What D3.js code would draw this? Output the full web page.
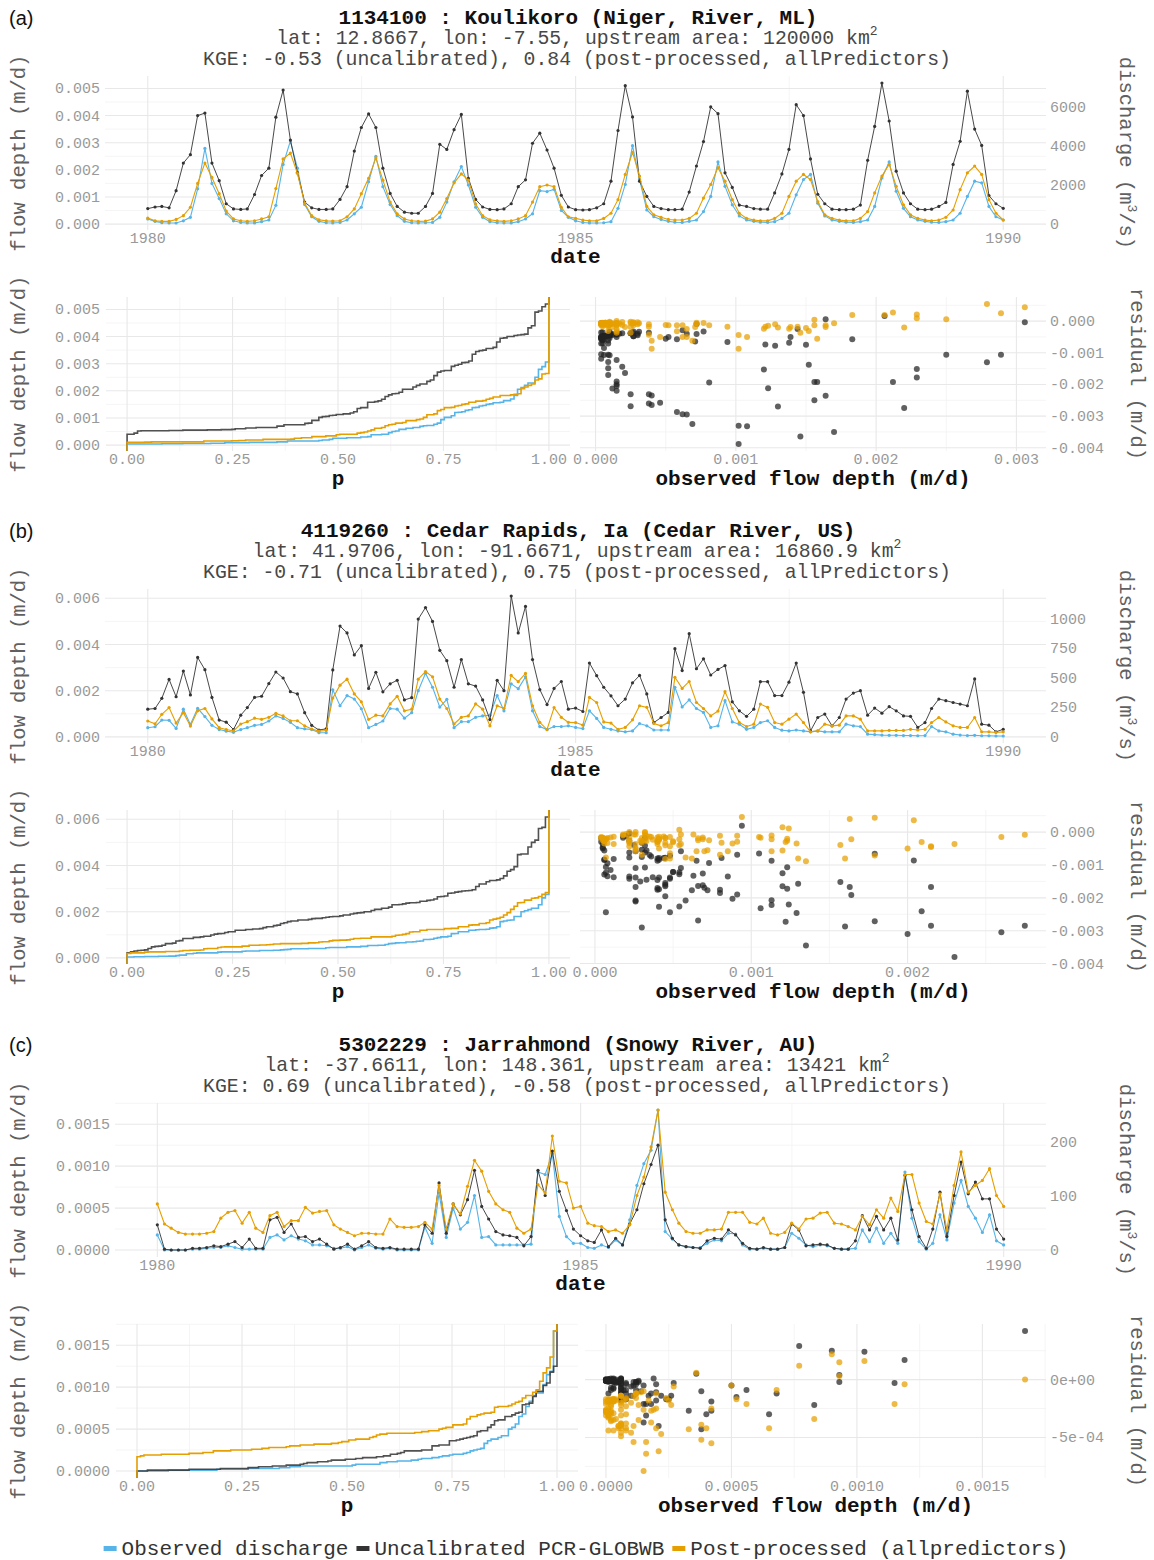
<!DOCTYPE html>
<html>
<head>
<meta charset="utf-8">
<script src="https://cdn.jsdelivr.net/npm/d3@7"></script>
<style>
body { margin: 0; background: #fff; }
svg text { font-family: 'Liberation Mono', 'DejaVu Sans Mono', monospace; }
</style>
</head>
<body>
<svg id="chart" width="1154" height="1560"></svg>
<script>
'use strict';

/*---------------------------------------------------------------
data : monthly flow depth, Jan 1980 - Jan 1990, in 1e-4 m/d
---------------------------------------------------------------*/
// (a) Koulikoro
var obsA = [1.9,1.0,0.5,0.4,0.4,1.2,2.5,13,27.9,15,9.4,3.8,
    1.2,0.6,0.4,0.4,0.9,1.5,6.9,22,30.6,20.6,7.2,2.7,
    1.0,0.5,0.4,0.6,1.5,3.8,6.2,15.6,25,13.8,7.2,3.1,
    1.0,0.5,0.4,0.5,0.6,2.5,8.1,15.6,21.2,14.4,6.2,2.5,
    0.9,0.5,0.4,0.4,0.9,1.9,3.8,12.3,12,12.8,5,2.5,
    1.2,0.6,0.4,0.4,0.5,0.9,5.8,14.6,28.9,16.4,5.2,2.7,
    1.7,1.0,0.7,0.6,1.0,1.5,4.6,10.2,22.9,13.9,7.1,3.0,
    1.5,1.0,0.7,0.6,0.9,2.1,4.0,10.8,16.4,18.3,7.7,3.0,
    1.5,1.0,0.7,0.6,0.9,1.5,6.5,17,22.9,12.1,5.8,2.7,
    1.5,1.0,0.7,0.6,0.9,1.5,4.0,10.2,15.8,15.2,6.5,2.7,
    1.5];
var uncA = [5.7,6.3,6.5,6.0,12.3,22.5,25.6,40,40.9,22.5,16,7.5,
    5.6,5.4,5.6,10.9,17.9,20.6,39.4,49.4,31,19,8.1,6,
    5.4,5.4,5.6,9.1,13.8,26.9,35.6,40.6,35.6,20.6,11.3,6.5,
    4.4,4.0,4.0,6.5,11.3,29.4,27.5,34.8,40.4,16.9,9.1,6.3,
    5.4,5.3,5.6,7.5,13.8,16.3,29.8,33.5,27.3,20.6,10.6,6.3,
    5.3,5.2,5.3,6.0,7.5,15.8,34.5,51,39.5,15.8,10.2,6.5,
    5.7,5.3,5.3,5.5,11.8,21.4,30.4,43.2,40.7,18.9,13.5,7,
    6.5,5.7,5.5,5.5,11.5,18.5,27.5,44,40,24,11,7.5,
    5.5,5.3,5.3,5.5,7.0,23.5,36,52,38,19.5,11.5,7.5,
    5.5,5.3,5.5,6.5,8.0,22,30.5,49,35,29,10.5,7.5,
    5.8];
var postA = [2.2,1.2,1.0,1.0,1.7,3.1,6.2,15,22.5,17.2,11.2,4.8,
    1.9,1.2,1.0,1.2,1.9,2.7,13.1,24,26.2,18.7,7.7,3.1,
    1.6,1.2,1.1,1.2,2.7,5.6,11.2,16.9,24.4,16.2,8.1,3.8,
    1.9,1.2,1.0,1.1,1.9,4.4,9.4,15.2,18.5,16.2,7.5,3.1,
    1.6,1.2,1.0,1.2,1.9,3.1,8.1,13.8,14.4,13.8,6.2,2.7,
    2.1,1.5,1.2,1.2,2.1,4.0,9.0,18.3,26.4,17.7,6.5,3.4,
    2.5,1.7,1.5,1.5,2.1,4.0,9.6,14.6,20.8,15.8,9.0,4.0,
    2.1,1.5,1.2,1.2,2.1,4.0,10.2,15.8,18.3,16.4,8.3,3.4,
    2.1,1.5,1.2,1.2,2.1,4.6,11.5,17.7,22,13.9,7.1,3.4,
    2.1,1.5,1.2,1.5,2.5,5.2,12.7,18.9,21.4,18.3,9.0,4.0,
    1.5];

// (b) Cedar Rapids
var obsB = [4.0,4.4,7.3,7.2,3.7,12,5.4,12.4,8.8,5.0,3.2,2.5,
    2.0,3.2,4.0,5.0,5.4,6.9,9.1,8.0,6.3,4.0,3.5,3.2,
    1.8,1.8,20.4,13.5,17.9,16.4,12.2,4.0,5.4,6.9,12.3,12,
    8.1,10.5,20,27.5,21.5,12.9,16.3,4,6.6,6.6,8.5,9.1,
    9.4,17.9,11.3,23,20.9,26,11.3,4.5,3.2,4.5,4.5,4.8,
    4.1,3.6,11.3,8.0,4.1,3.3,2.6,2.2,2.6,5.8,4.8,3.0,
    3.0,3.0,21.5,13,16,12.3,10.6,4.1,4.8,15.7,6.5,5.5,
    3.3,4.1,6.2,7.0,4.1,2.9,2.6,3.0,2.6,2.2,2.6,2.2,
    2.2,2.2,5.5,4.8,4.5,1.2,1.0,0.8,0.7,0.7,0.6,0.6,
    0.5,0.6,4.5,2.6,2.2,1.2,0.8,0.6,0.7,0.5,0.5,0.4,
    0.4];
var uncB = [12,12.3,16.7,24.9,17.4,28.5,18.2,34.4,29.1,17.1,7.3,6.4,
    3.2,9.4,12.7,17.1,17.6,23.1,28.1,25.5,19.6,18.6,10.5,5.0,
    3.0,3.5,29,48,45,35.5,39.5,21,28,19.5,23,24.5,
    16,17,51,56,50,37.5,33,21.5,33.5,23,22,16,
    7.5,24.5,20,61,45,56.5,33.5,20.5,14,21,24,12,
    12.5,11.0,32,26.5,21.5,17.8,13.5,16.4,23.4,26.6,18.6,6.2,
    8.4,10.6,38.2,28.7,44.7,29.5,33.8,26.8,29.2,30.9,15.2,11.3,
    8.9,12,23.9,23.9,17.9,17.9,23.7,32,19.3,2.6,8.4,9.9,
    4.8,8.4,16.4,19,20,9.4,12.5,10.3,13.1,11.3,9.1,8.9,
    4.1,6.2,12.3,16.4,15.7,14.9,14.2,13.5,25.1,5.5,5.1,2.2,
    3.3];
var postB = [6.9,5.7,9.8,12.7,6.0,10.5,4.7,11.3,12.3,7.8,4.0,3.2,
    2.6,5.6,6.6,8.1,7.6,8.5,10.2,9.1,7.0,7.0,4.8,3.4,
    2.5,2.8,16.8,22.4,25,18.6,15.2,7.6,9.4,9.1,14.3,17.6,
    11.3,12,25,28.3,26,16.4,12.3,5.6,8.5,9.1,14.3,12,
    4.8,13.5,12.3,26.6,23.9,27.5,13.5,6.3,3.2,12.7,8.5,6.3,
    6.2,5.1,17.1,14.9,6.5,6.0,3.3,4.1,7.4,13.5,12.8,5.8,
    4.8,6.2,25.8,21,24,14.9,12.3,9.1,11.2,19.6,12.3,6.2,
    4.5,5.5,14.2,12.8,6.2,5.5,7.7,9.9,6.2,2.2,2.6,5.5,
    4.8,5.1,9.1,9.1,7.7,2.6,2.6,2.6,2.8,2.8,2.8,3.3,
    3.0,3.3,6.2,8.4,6.5,4.8,4.1,4.1,8.4,2.2,2.2,1.9,
    2.2];

// (c) Jarrahmond
var obsC = [1.8,0.0,0.0,0.0,0.0,0.1,0.1,0.2,0.3,0.3,0.5,0.3,
    0.1,0.1,0.1,0.1,1.5,1.8,1.2,1.7,1.3,1.1,0.6,0.6,
    0.5,0.2,0.2,0.4,0.0,0.3,0.6,0.2,0.1,0.2,0.0,0.0,
    0.0,0.0,2.7,0.8,6.8,1.5,5.0,2.5,3.3,6.5,1.5,1.6,
    0.6,0.6,0.6,0.6,0.6,0.7,9.3,9.0,11.5,4.0,1.6,0.8,
    0.8,0.3,0.2,0.6,0.3,1.2,0.6,3.6,7.7,10.3,11.9,16.7,
    2.2,1.3,0.6,0.4,0.3,0.3,0.8,1.2,1.1,2.0,1.9,0.6,
    0.1,0.1,0.2,0.1,0.1,0.3,2.0,1.4,0.6,0.4,0.6,0.5,
    0.2,0.1,0.1,0.2,2.4,1.0,2.6,0.8,2.0,0.8,9.3,3.8,
    1.0,0.1,0.8,4.2,1.2,5.6,8.3,5.2,3.8,2.1,4.2,1.1,
    0.6];
var uncC = [3.0,0.1,0.0,0.0,0.0,0.2,0.2,0.3,0.5,0.4,0.7,1.0,
    0.3,1.3,0.2,0.2,3.6,3.9,2.1,3.1,1.5,1.6,1.0,1.3,
    0.7,0.1,0.3,0.7,0.1,0.5,1.0,0.3,0.2,0.3,0.1,0.1,
    0.1,0.1,3.0,2.0,8.0,2.0,5.5,4.2,6.0,9.5,5.2,3.7,
    2.2,1.8,1.7,1.5,0.5,1.6,9.5,6.5,11.8,7.0,4.7,2.5,
    1.7,1.1,0.9,2.4,0.4,1.4,0.6,3.1,4.8,7.9,10.2,12.5,
    3.6,1.4,0.6,0.4,0.3,0.2,1.1,1.4,1.3,2.4,1.8,0.8,
    0.2,0.1,0.3,0.1,0.1,0.3,3.1,2.4,0.5,0.6,0.7,0.6,
    0.2,0.1,0.1,1.1,4.1,2.4,4.0,2.4,3.8,1.2,8.9,4.8,
    1.6,0.2,2.5,6.9,1.6,6.5,10.5,6.7,8.1,6.1,6.1,2.5,
    1.3];
var postC = [5.5,3.1,2.6,2.1,1.9,1.9,1.9,2.0,2.2,3.8,4.5,4.7,
    3.2,4.5,2.6,2.1,4.1,4.5,2.8,3.5,3.5,5.1,4.4,4.6,
    4.7,3.0,2.5,2.1,1.7,2.0,2.0,1.9,1.9,3.7,2.8,2.7,
    2.7,2.8,3.3,2.5,7.7,2.5,5.5,4.3,7.6,10.7,9.4,7.0,
    5.5,4.8,4.5,2.6,2.0,2.5,7.8,6.8,13.6,8.2,8.0,5.0,
    5.2,3.2,2.9,2.8,2.2,2.4,2.0,3.0,6.5,8.7,12.3,16.7,
    6.9,4.8,3.2,2.2,2.0,2.0,2.4,2.4,2.5,4.5,4.5,4.5,
    3.3,3.1,3.8,2.0,1.8,2.1,3.2,2.5,3.7,3.8,4.4,4.5,
    3.2,3.1,2.8,2.4,4.0,3.0,4.8,3.8,6.2,4.6,9.0,9.0,
    5.6,3.4,3.1,6.7,2.4,7.7,11.7,6.9,7.7,8.3,9.7,6.5,
    5.2];

// station info
var panelLetters = ['(a)', '(b)', '(c)'];
var stationTitles = ['1134100 : Koulikoro (Niger, River, ML)',
    '4119260 : Cedar Rapids, Ia (Cedar River, US)',
    '5302229 : Jarrahmond (Snowy River, AU)'];
var stationLat = ['12.8667', '41.9706', '-37.6611'];
var stationLon = ['-7.55', '-91.6671', '148.361'];
var stationArea = [120000, 16860.9, 13421]; // km2
var kgeUncal = ['-0.53', '-0.71', '0.69'];
var kgePost = ['0.84', '0.75', '-0.58'];

// tick values
var yearTicks = [1980, 1985, 1990];
var pTicks = [0, 0.25, 0.5, 0.75, 1];
var depthTicksA = [0, 0.001, 0.002, 0.003, 0.004, 0.005];
var depthTicksB = [0, 0.002, 0.004, 0.006];
var depthTicksC = [0, 0.0005, 0.001, 0.0015];
var dischargeTicksA = [0, 2000, 4000, 6000];
var dischargeTicksB = [0, 250, 500, 750, 1000];
var dischargeTicksC = [0, 100, 200];
var obsTicksA = [0, 0.001, 0.002, 0.003];
var obsTicksB = [0, 0.001, 0.002];
var obsTicksC = [0, 0.0005, 0.001, 0.0015];
var resTicksA = [0, -0.001, -0.002, -0.003, -0.004];
var resTicksB = [0, -0.001, -0.002, -0.003, -0.004];
var resTicksC = [0, -0.0005];
var resLabelsC = ['0e+00', '-5e-04'];

var legendLabels = ['Observed discharge', 'Uncalibrated PCR-GLOBWB', 'Post-processed (allpredictors)'];

/*---------------------------------------------------------------
setup
---------------------------------------------------------------*/
var colours = ['#56B4E9', '#333333', '#E69F00'];
var tickCol = '#999999',
    titleCol = '#606060',
    subCol = '#474747',
    gridMajor = '#e8e8e8',
    gridMinor = '#f3f3f3';

var R = 1046;

var panels = [
    { obs: obsA, unc: uncA, post: postA, depthTicks: depthTicksA, depthFmt: '.3f', qTicks: dischargeTicksA,
      obsTicks: obsTicksA, obsFmt: '.3f', resTicks: resTicksA, resLabels: null,
      y0: 0, left: 105, ecdfRight: 570, scLeft: 580 },
    { obs: obsB, unc: uncB, post: postB, depthTicks: depthTicksB, depthFmt: '.3f', qTicks: dischargeTicksB,
      obsTicks: obsTicksB, obsFmt: '.3f', resTicks: resTicksB, resLabels: null,
      y0: 513, left: 105, ecdfRight: 570, scLeft: 580 },
    { obs: obsC, unc: uncC, post: postC, depthTicks: depthTicksC, depthFmt: '.4f', qTicks: dischargeTicksC,
      obsTicks: obsTicksC, obsFmt: '.4f', resTicks: resTicksC, resLabels: resLabelsC,
      y0: 1027, left: 115, ecdfRight: 578, scLeft: 585 }
];

var svg = d3.select('#chart');
svg.append('rect').attr('width', 1154).attr('height', 1560).attr('fill', '#fff');

var dates = d3.range(obsA.length).map(function(i) { return new Date(1980, i, 1); });

function fmt(spec) {
    var f = d3.format(spec);
    return function(v) { return f(v).replace('\u2212', '-'); };
}

function padExtent(vals) {
    var ext = d3.extent(vals), p = (ext[1] - ext[0]) * 0.05;
    return [ext[0] - p, ext[1] + p];
}

// minor breaks half way between majors, kept inside the domain
function minorTicks(ticks, dom) {
    var t = ticks.slice().sort(function(a, b) { return a - b; }),
        step = t[1] - t[0], out = [],
        lo = Math.min(dom[0], dom[1]), hi = Math.max(dom[0], dom[1]);
    for (var v = t[0] - step / 2; v <= t[t.length - 1] + step * 0.51; v += step) {
        if (v >= lo && v <= hi) out.push(v);
    }
    return out;
}

function hLines(g, y, vals, x0, x1, col, w) {
    g.selectAll(null).data(vals).enter().append('line')
        .attr('x1', x0).attr('x2', x1)
        .attr('y1', function(d) { return y(d); }).attr('y2', function(d) { return y(d); })
        .attr('stroke', col).attr('stroke-width', w);
}

function vLines(g, x, vals, y0, y1, col, w) {
    g.selectAll(null).data(vals).enter().append('line')
        .attr('y1', y0).attr('y2', y1)
        .attr('x1', function(d) { return x(d); }).attr('x2', function(d) { return x(d); })
        .attr('stroke', col).attr('stroke-width', w);
}

function label(g, x, y, s, size, col, anchor, weight) {
    return g.append('text').attr('x', x).attr('y', y).text(s)
        .attr('font-size', size).attr('fill', col)
        .attr('text-anchor', anchor || 'middle')
        .attr('font-weight', weight || 'normal');
}

function rotLabel(g, x, y, angle, s, size, col) {
    return g.append('text').attr('transform', 'translate(' + x + ',' + y + ') rotate(' + angle + ')')
        .attr('text-anchor', 'middle').attr('font-size', size).attr('fill', col).text(s);
}

/*---------------------------------------------------------------
one block per station
---------------------------------------------------------------*/
panels.forEach(function(P, k) {

    var g = svg.append('g');
    var series = [P.obs, P.unc, P.post].map(function(arr) {
        return arr.map(function(v) { return v * 1e-4; });
    });
    var all = series[0].concat(series[1], series[2]);

    /*--- titles ---*/
    g.append('text').attr('x', 9).attr('y', P.y0 + 25).text(panelLetters[k])
        .style('font-family', "'Liberation Sans', Arial, sans-serif")
        .attr('font-size', 20).attr('fill', '#111');
    label(g, 578, P.y0 + 24, stationTitles[k], 21, '#111', 'middle', 'bold');
    var sub = label(g, 577, P.y0 + 44, '', 19.8, subCol);
    sub.append('tspan').text('lat: ' + stationLat[k] + ', lon: ' + stationLon[k] +
        ', upstream area: ' + stationArea[k] + ' km');
    sub.append('tspan').attr('dy', -9).attr('font-size', 13).text('2');
    label(g, 577, P.y0 + 65, 'KGE: ' + kgeUncal[k] + ' (uncalibrated), ' + kgePost[k] +
        ' (post-processed, allPredictors)', 19.8, subCol);

    /*--- time series panel ---*/
    var tTop = P.y0 + 76, tBot = P.y0 + 230;
    var tPad = (dates[dates.length - 1] - dates[0]) * 0.05;
    var x = d3.scaleTime()
        .domain([new Date(+dates[0] - tPad), new Date(+dates[dates.length - 1] + tPad)])
        .range([P.left, R]);
    var y = d3.scaleLinear().domain(padExtent(all)).range([tBot, tTop]);

    var yearDates = yearTicks.map(function(yr) { return new Date(yr, 0, 1); });
    var minorDates = [new Date(1982, 6, 2), new Date(1987, 6, 2)];

    hLines(g, y, minorTicks(P.depthTicks, y.domain()), P.left, R, gridMinor, 0.8);
    vLines(g, x, minorDates, tTop, tBot, gridMinor, 0.8);
    hLines(g, y, P.depthTicks, P.left, R, gridMajor, 1.1);
    vLines(g, x, yearDates, tTop, tBot, gridMajor, 1.1);

    var line = d3.line()
        .x(function(d, i) { return x(dates[i]); })
        .y(function(d) { return y(d); });

    series.forEach(function(s, j) {
        g.append('path').datum(s).attr('d', line)
            .attr('fill', 'none').attr('stroke', colours[j])
            .attr('stroke-width', j === 1 ? 0.9 : 1.1);
        g.selectAll(null).data(s).enter().append('circle')
            .attr('cx', function(d, i) { return x(dates[i]); })
            .attr('cy', function(d) { return y(d); })
            .attr('r', 1.6).attr('fill', colours[j]);
    });

    // axes text
    var dFmt = fmt(P.depthFmt);
    P.depthTicks.forEach(function(v) {
        label(g, P.left - 5, y(v) + 5, dFmt(v), 15, tickCol, 'end');
    });
    yearTicks.forEach(function(yr, i) {
        label(g, x(yearDates[i]), tBot + 13, String(yr), 15, tickCol);
    });
    var area = stationArea[k] * 1e6;
    P.qTicks.forEach(function(q) {
        label(g, R + 4, y(q * 86400 / area) + 5, String(q), 15, tickCol, 'start');
    });
    label(g, (P.left + R) / 2, tBot + 33, 'date', 21, '#111', 'middle', 'bold');
    rotLabel(g, 25, (tTop + tBot) / 2, -90, 'flow depth (m/d)', 20.5, titleCol);
    var dq = rotLabel(g, 1120, (tTop + tBot) / 2, 90, '', 20.5, titleCol);
    dq.append('tspan').text('discharge (m');
    dq.append('tspan').attr('dy', -8).attr('font-size', 13).text('3');
    dq.append('tspan').attr('dy', 8).text('/s)');

    /*--- ECDF panel ---*/
    var bTop = P.y0 + 297, bBot = P.y0 + 451;
    var eL = P.left + 1, eR = P.ecdfRight;
    var px = d3.scaleLinear().domain([-0.05, 1.05]).range([eL, eR]);
    var ey = d3.scaleLinear().domain(y.domain()).range([bBot, bTop]);

    hLines(g, ey, minorTicks(P.depthTicks, ey.domain()), eL, eR, gridMinor, 0.8);
    vLines(g, px, minorTicks(pTicks, px.domain()), bTop, bBot, gridMinor, 0.8);
    hLines(g, ey, P.depthTicks, eL, eR, gridMajor, 1.1);
    vLines(g, px, pTicks, bTop, bBot, gridMajor, 1.1);

    var eLine = d3.line()
        .x(function(d) { return px(d[0]); })
        .y(function(d) { return ey(d[1]); });

    series.forEach(function(s, j) {
        var sorted = s.slice().sort(function(a, b) { return a - b; }), n = sorted.length;
        var pts = [[0, ey.domain()[0]]];
        sorted.forEach(function(v, i) {
            pts.push([i / n, v]);
            pts.push([(i + 1) / n, v]);
        });
        pts.push([1, ey.domain()[1]]);
        g.append('path').datum(pts).attr('d', eLine)
            .attr('fill', 'none').attr('stroke', colours[j])
            .attr('stroke-width', 1.6).attr('stroke-opacity', j === 1 ? 0.85 : 1);
    });

    P.depthTicks.forEach(function(v) {
        label(g, eL - 6, ey(v) + 5, dFmt(v), 15, tickCol, 'end');
    });
    var pFmt = fmt('.2f');
    pTicks.forEach(function(v) {
        label(g, px(v), bBot + 13, pFmt(v), 15, tickCol);
    });
    label(g, (eL + eR) / 2, bBot + 34, 'p', 21, '#111', 'middle', 'bold');
    rotLabel(g, 25, (bTop + bBot) / 2, -90, 'flow depth (m/d)', 20.5, titleCol);

    /*--- residual scatter panel ---*/
    var resUnc = series[0].map(function(o, i) { return o - series[1][i]; });
    var resPost = series[0].map(function(o, i) { return o - series[2][i]; });
    var sx = d3.scaleLinear().domain(padExtent(series[0])).range([P.scLeft, R]);
    var sy = d3.scaleLinear().domain(padExtent(resUnc.concat(resPost))).range([bBot, bTop]);

    hLines(g, sy, minorTicks(P.resTicks, sy.domain()), P.scLeft, R, gridMinor, 0.8);
    vLines(g, sx, minorTicks(P.obsTicks, sx.domain()), bTop, bBot, gridMinor, 0.8);
    hLines(g, sy, P.resTicks, P.scLeft, R, gridMajor, 1.1);
    vLines(g, sx, P.obsTicks, bTop, bBot, gridMajor, 1.1);

    [[resUnc, 1, 0.72], [resPost, 2, 0.72]].forEach(function(r) {
        g.selectAll(null).data(r[0]).enter().append('circle')
            .attr('cx', function(d, i) { return sx(series[0][i]); })
            .attr('cy', function(d) { return sy(d); })
            .attr('r', 3).attr('fill', r[1] === 1 ? '#222' : colours[2])
            .attr('fill-opacity', r[2]);
    });

    var oFmt = fmt(P.obsFmt);
    P.obsTicks.forEach(function(v) {
        label(g, sx(v), bBot + 13, oFmt(v), 15, tickCol);
    });
    var rFmt = fmt(P.depthFmt);
    P.resTicks.forEach(function(v, i) {
        label(g, R + 4, sy(v) + 5, P.resLabels ? P.resLabels[i] : rFmt(v), 15, tickCol, 'start');
    });
    label(g, (P.scLeft + R) / 2, bBot + 34, 'observed flow depth (m/d)', 21, '#111', 'middle', 'bold');
    rotLabel(g, 1131, (bTop + bBot) / 2, 90, 'residual (m/d)', 20.5, titleCol);
});

/*---------------------------------------------------------------
legend
---------------------------------------------------------------*/
var lg = svg.append('g');
var cx = 0;
legendLabels.forEach(function(lab, i) {
    lg.append('rect').attr('x', cx).attr('y', -3).attr('width', 13).attr('height', 5).attr('fill', colours[i]);
    var t = lg.append('text').attr('x', cx + 18).attr('y', 6).text(lab)
        .attr('font-size', 21).attr('fill', '#333');
    cx += 18 + t.node().getComputedTextLength() + 8;
});
lg.attr('transform', 'translate(' + (586 - (cx - 8) / 2) + ',1549)');
</script>
</body>
</html>
